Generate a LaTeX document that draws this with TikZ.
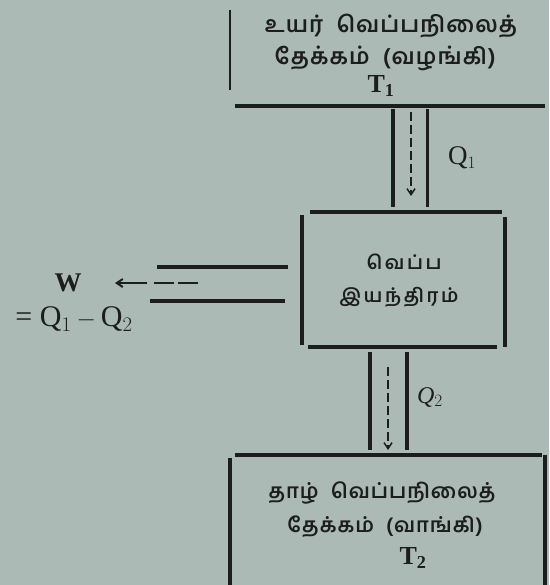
\documentclass[tikz,border=0pt]{standalone}
\usepackage{fontspec}
\setmainfont{Liberation Serif}
\newfontfamily\tamil[Script=Tamil,LetterSpace=5,WordSpace=2]{Hind Madurai}
\newfontfamily\tamilwide[Script=Tamil,LetterSpace=14]{Hind Madurai}
\usetikzlibrary{arrows.meta}
\definecolor{paper}{RGB}{172,186,182}
\definecolor{ink}{RGB}{28,30,30}
\begin{document}
\begin{tikzpicture}[x=1pt,y=-1pt,
  wall/.style={draw=ink,line width=3.6pt},
  pipe/.style={draw=ink,line width=3.6pt},
  flow/.style={draw=ink,line width=1.5pt,dash pattern=on 9pt off 4pt,-{Straight Barb[length=6pt,width=8pt]}},
  ttext/.style={font=\tamil\bfseries\fontsize{20.5}{22}\selectfont,text=ink,inner sep=0pt},
  htext/.style={font=\tamil\bfseries\fontsize{22.5}{24}\selectfont,text=ink,inner sep=0pt},
  etext/.style={font=\tamilwide\bfseries\fontsize{19}{22}\selectfont,text=ink,inner sep=0pt},
  ltext/.style={font=\fontsize{27}{30}\selectfont,text=ink,inner sep=0pt}]
\fill[paper] (0,0) rectangle (549,585);
\useasboundingbox (0,0) rectangle (549,585);
% hot reservoir
\draw[wall,line width=2.4pt] (230,10) -- (230,90);
\draw[wall] (235,106) -- (545,106);
\node[htext] (hot1) at (391,26) {உயர் வெப்பநிலைத்};
\node[htext] (hot2) at (385,58) {தேக்கம் (வழங்கி)};
\node[ltext,font=\bfseries\fontsize{26}{30}\selectfont] (t1) at (381,86) {T$_{\mathbf 1}$};
% Q1 pipe
\draw[pipe] (393,109) -- (393,207);
\draw[pipe,line width=3pt] (427,109) -- (427,207);
\coordinate (q1s) at (411,112);
\coordinate (q1e) at (411,196);
\draw[flow] (q1s) -- (q1e);
\node[ltext] (q1) at (462,158) {Q$_1$};
% engine
\draw[wall] (310,212) -- (502,212);
\draw[wall] (302,215) -- (302,345);
\draw[wall] (505,217) -- (505,347);
\draw[wall] (308,347) -- (497,347);
\node[etext] (eng1) at (404,262) {வெப்ப};
\node[etext] (eng2) at (399,297) {இயந்திரம்};
% W pipe
\draw[pipe] (157,267) -- (288,267);
\draw[pipe] (150,301) -- (285,301);
\coordinate (ws) at (198,283);
\coordinate (we) at (115,283);
\draw[flow,line width=2pt,dash pattern=on 20pt off 4pt on 20pt off 7pt on 12pt off 0pt] (ws) -- (we);
\node[ltext,font=\bfseries\fontsize{27}{30}\selectfont] (w) at (68,283) {W};
\node[ltext,font=\fontsize{30}{34}\selectfont] (wq) at (74,319) {= Q$_1$\,$-$\,Q$_2$};
% Q2 pipe
\draw[pipe] (370,352) -- (370,450);
\draw[pipe] (407,352) -- (407,450);
\coordinate (q2s) at (388,367);
\coordinate (q2e) at (388,450);
\draw[flow] (q2s) -- (q2e);
\node[ltext,font=\itshape\fontsize{24}{28}\selectfont] (q2) at (430,397) {Q$_2$};
% cold reservoir
\draw[wall] (235,455) -- (542,455);
\draw[wall] (230,458) -- (230,585);
\draw[wall] (545,455) -- (545,585);
\node[ttext] (cold1) at (382,493) {தாழ் வெப்பநிலைத்};
\node[ttext] (cold2) at (385,527) {தேக்கம் (வாங்கி)};
\node[ltext,font=\bfseries\fontsize{26}{30}\selectfont] (t2) at (413,558) {T$_{\mathbf 2}$};
\end{tikzpicture}
\end{document}
